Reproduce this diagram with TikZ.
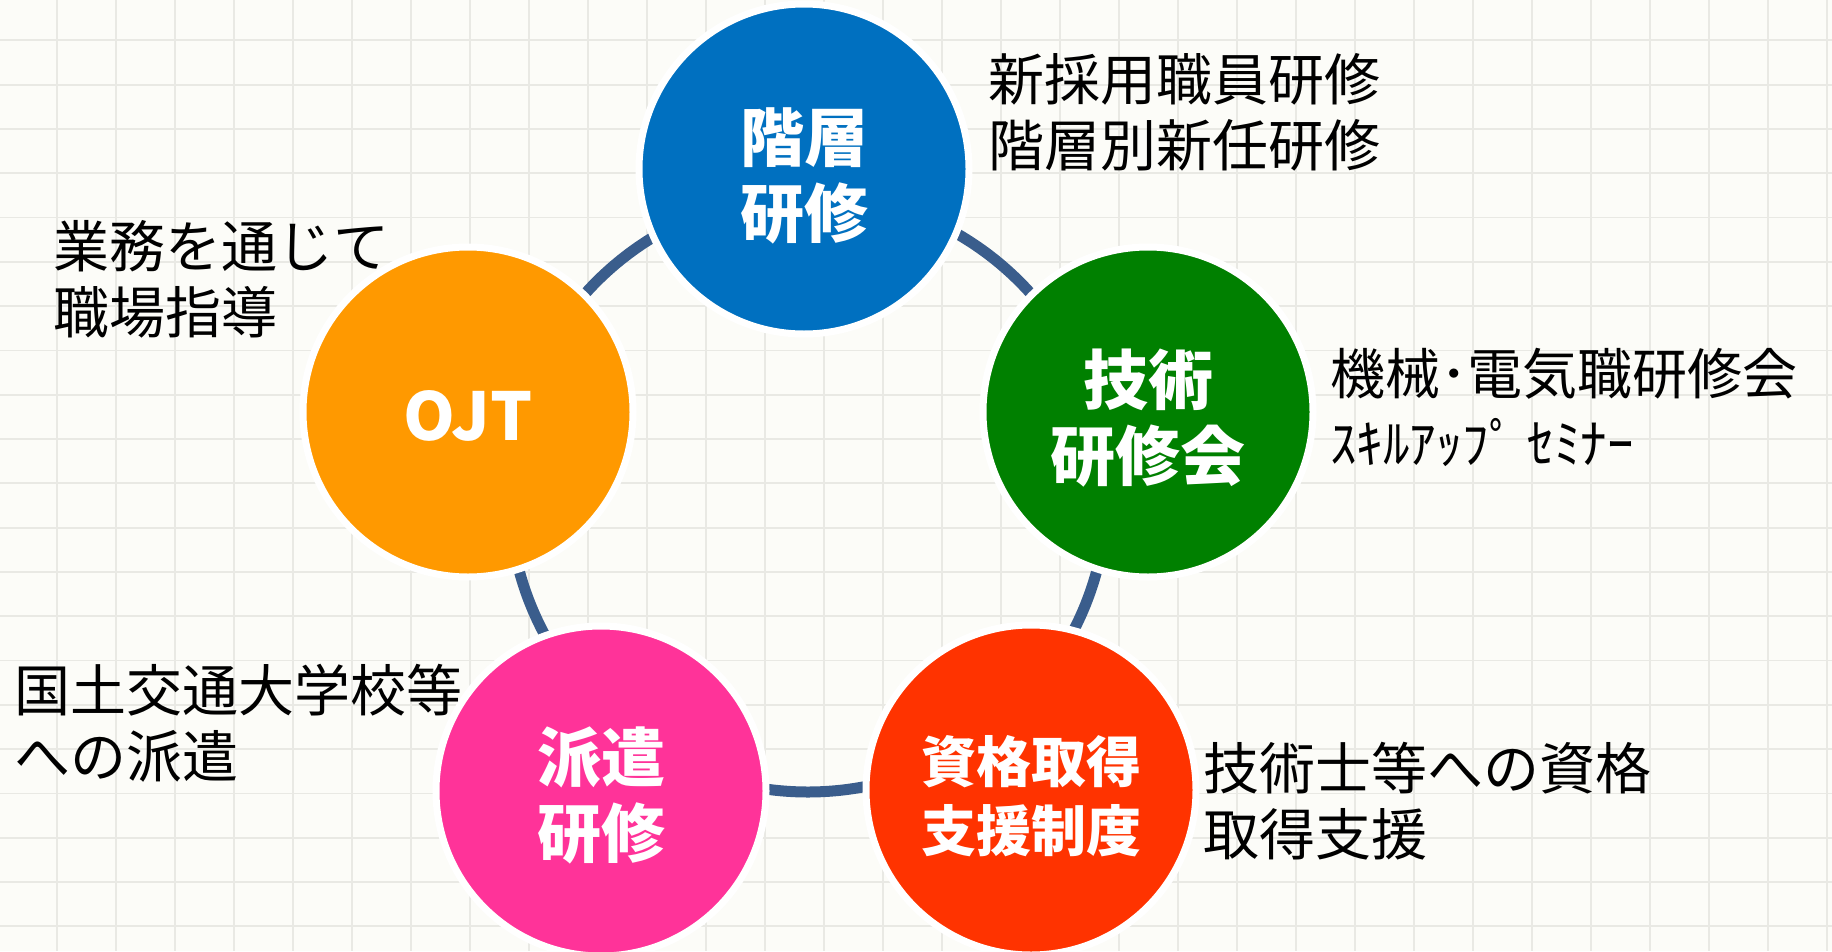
\documentclass[tikz,border=0pt]{standalone}
\usepackage{fontspec}
\newfontfamily\cjk{Noto Sans CJK JP}
\definecolor{bgc}{HTML}{FCFCF8}
\definecolor{gridc}{HTML}{E9E9E4}
\definecolor{ringc}{HTML}{3A5D8C}
\definecolor{cblue}{HTML}{0070C0}
\definecolor{cgreen}{HTML}{008000}
\definecolor{cred}{HTML}{FF3300}
\definecolor{cpink}{HTML}{FF3399}
\definecolor{corange}{HTML}{FF9900}
\tikzset{
  gridline/.style={draw=gridc, line width=1.8pt},
  bubble/.style={circle, draw=white, line width=7pt, minimum size=330pt, inner sep=0pt},
  btext/.style={inner sep=0pt, text=white, align=center,
    font=\cjk\bfseries\fontsize{64}{76}\selectfont},
  sidetext/.style={anchor=west, inner sep=0pt, align=left, text=black,
    font=\cjk\fontsize{56}{66}\selectfont},
}
\begin{document}
\begin{tikzpicture}[x=1pt, y=-1pt]
\useasboundingbox (0,0) rectangle (1832,951);
\fill[bgc] (0,0) rectangle (1832,951);
\foreach \i in {0,...,31} \draw[gridline] ({-2+59*\i},0) -- ({-2+59*\i},951);
\foreach \j in {0,...,22} \draw[gridline] (0,{-4+44.3*\j}) -- (1832,{-4+44.3*\j});
% ring
\coordinate (rc) at (808,493);
\draw[ringc, line width=11pt] (rc) circle[radius=299pt];
% bubbles
\node[bubble, fill=cblue] (kaiso) at (804,169) {};
\node[bubble, fill=cgreen] (gijutsu) at (1148,412) {};
\node[bubble, fill=cred] (shikaku) at (1031,790) {};
\node[bubble, fill=cpink] (haken) at (601,791) {};
\node[bubble, fill=corange] (ojt) at (468,412) {};
\node[btext] (lkaiso) at ([yshift=-7pt]kaiso.center) {階層\\研修};
\node[btext, font=\cjk\bfseries\fontsize{65}{76}\selectfont] (lgijutsu) at ([yshift=-6pt]gijutsu.center) {技術\\研修会};
\node[btext, font=\cjk\bfseries\fontsize{55}{69}\selectfont] (lshikaku) at ([yshift=-6pt]shikaku.center) {資格取得\\支援制度};
\node[btext] (lhaken) at ([yshift=-4pt]haken.center) {派遣\\研修};
\node[btext, font=\cjk\bfseries\fontsize{66}{76}\selectfont] (lojt) at ([yshift=-4pt]ojt.center) {OJT};
% side texts
\node[sidetext] (tkaiso) at (988,112) {新採用職員研修\\階層別新任研修};
\node[sidetext] (tojt) at (53,279) {業務を通じて\\職場指導};
\node[sidetext, font=\cjk\fontsize{55}{69}\selectfont] (tgijutsu) at (1330,407) {機械･電気職研修会\\{\fontsize{53}{69}\selectfont ｽｷﾙｱｯﾌﾟ ｾﾐﾅｰ}};
\node[sidetext] (tshikaku) at (1203,801) {技術士等への資格\\取得支援};
\node[sidetext] (thaken) at (14,723) {国土交通大学校等\\への派遣};
\end{tikzpicture}
\end{document}
